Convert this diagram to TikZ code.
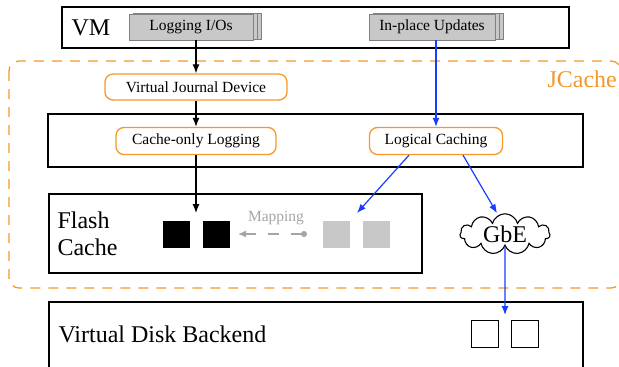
\documentclass[tikz,border=0pt]{standalone}
\usepackage{fontspec}
\setmainfont{Liberation Serif}
\usetikzlibrary{arrows.meta,shapes.symbols,shadows}
\tikzset{>={Latex[length=9pt,width=7pt]}}
\definecolor{jorange}{RGB}{246,152,40}
\definecolor{jblue}{RGB}{25,60,255}
\definecolor{iogray}{RGB}{200,200,200}
\definecolor{mapgray}{RGB}{165,165,165}
\tikzset{
    lbl/.style={font=\fontsize{15.5}{18}\selectfont},
    bigtxt/.style={font=\fontsize{24}{27}\selectfont},
}

\begin{document}
\begin{tikzpicture}[x=1pt,y=-1pt,
        plain/.style={draw,line width=1.1pt},
        ioreq/.style={lbl,draw=black!50,fill=iogray,line width=0.8pt,minimum height=26pt,
            double copy shadow={shadow xshift=4pt,shadow yshift=0.5pt,fill=iogray,draw=black!50}},
        jbox/.style={lbl,draw=jorange,line width=1.3pt,rounded corners=8pt,minimum height=27pt},
        blk/.style={minimum size=27pt,inner sep=0pt},
        flow/.style={->,line width=1.2pt},
        bflow/.style={->,line width=1.2pt,draw=jblue}]
    \useasboundingbox (0,0) rectangle (619,367);

    % JCache region
    \draw[jorange,line width=1.3pt,dash pattern=on 10pt off 8pt,rounded corners=10pt] (9,61) rectangle (621,288);
    \node[bigtxt,anchor=base west,text=jorange] (jc) at (544,87) {JCache};

    % Layers
    \draw[plain] (62,7) rectangle (569,48);
    \node[bigtxt,anchor=base west] (vm) at (68,35) {VM};
    \draw[plain] (48,114) rectangle (583,167);
    \draw[plain] (49,194) rectangle (422,273);
    \node[bigtxt,anchor=base west] (fl) at (54,228) {Flash};
    \node[bigtxt,anchor=base west] (fc) at (54,255) {Cache};
    \draw[plain] (49,302) rectangle (583,380);
    \node[bigtxt,anchor=base west] (vd) at (55,342) {Virtual Disk Backend};

    % I/O requests
    \node[ioreq,minimum width=124pt] (lio) at (191,27) {Logging I/Os};
    \node[ioreq,minimum width=126pt] (ipu) at (432,27) {In-place Updates};

    % JCache components
    \node[jbox,minimum width=182pt,minimum height=26pt] (vjd) at (196,87) {Virtual Journal Device};
    \node[jbox,minimum width=160pt] (col) at (196,141) {Cache-only Logging};
    \node[jbox,minimum width=133pt] (lc) at (436,141) {Logical Caching};

    % Blocks
    \node[blk,fill=black] (b1) at (176,234.5) {};
    \node[blk,fill=black] (b2) at (216,234.5) {};
    \node[blk,fill=iogray] (g1) at (336.5,234.5) {};
    \node[blk,fill=iogray] (g2) at (376.5,234.5) {};
    \node[blk,draw,line width=1.1pt] (w1) at (485,334) {};
    \node[blk,draw,line width=1.1pt] (w2) at (525,334) {};

    \node[bigtxt,cloud,draw,line width=1.1pt,cloud puffs=11,cloud puff arc=150,aspect=3.4,minimum width=90pt,minimum height=24pt,inner sep=0pt] (gbe) at (505,234) {GbE};

    % Mapping
    \coordinate (mapfrom) at (307,234);
    \coordinate (mapto) at (238,234);
    \draw[mapgray,line width=1.2pt,dash pattern=on 11pt off 12pt,{Latex[length=8pt,width=7pt]}-{Circle[length=6pt]}] (mapto) -- (mapfrom);
    \node[lbl,text=mapgray] (map) at (276,218) {Mapping};

    % Write paths
    \coordinate (fcin) at (196,213);
    \coordinate (lcin) at (357,213);
    \coordinate (vdin) at (505,315);
    \draw[flow] (lio.south -| vjd.north) -- (vjd.north);
    \draw[flow] (vjd.south) -- (col.north);
    \draw[flow] (col.south) -- (fcin);
    \draw[bflow] (ipu.south -| lc.north) -- (lc.north);
    \draw[bflow] ([xshift=-27pt]lc.south) -- (lcin);
    \draw[bflow] ([xshift=27pt]lc.south) -- ([xshift=-8pt]gbe.north);
    \draw[bflow] (gbe.south) -- (vdin);
\end{tikzpicture}
\end{document}
